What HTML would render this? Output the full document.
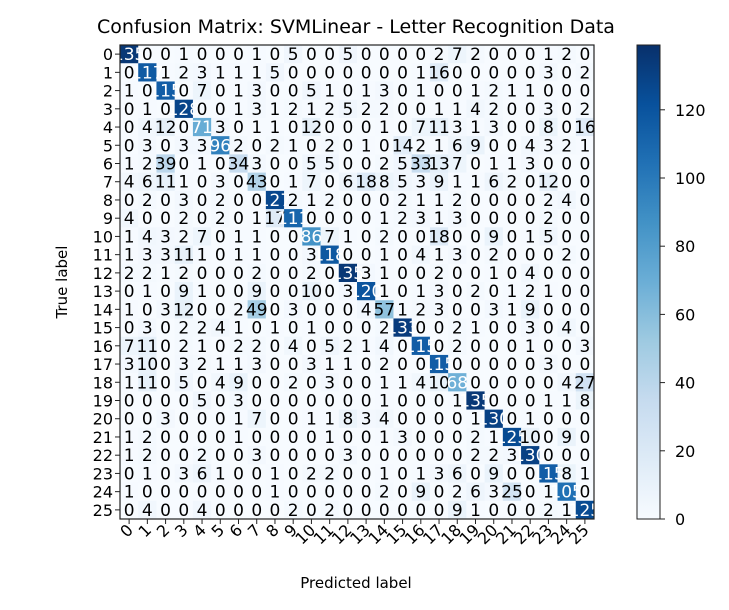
<!DOCTYPE html>
<html><head><meta charset="utf-8"><style>
body{margin:0;background:#fff;}
svg{display:block;font-family:"DejaVu Sans","Liberation Sans",sans-serif;}
</style></head><body>
<svg id="chart" width="729" height="610" viewBox="0 0 729 610" xmlns="http://www.w3.org/2000/svg">
<text x="356" y="33" font-size="19" text-anchor="middle">Confusion Matrix: SVMLinear - Letter Recognition Data</text>
<g id="cells"></g>
<g id="axes"></g>
<text transform="translate(67,282) rotate(-90)" font-size="15" text-anchor="middle">True label</text>
<text x="356" y="588" font-size="15" text-anchor="middle">Predicted label</text>
<defs><linearGradient id="blues" x1="0" y1="1" x2="0" y2="0">
<stop offset="0" stop-color="#f7fbff"/><stop offset="0.125" stop-color="#deebf7"/><stop offset="0.25" stop-color="#c6dbef"/><stop offset="0.375" stop-color="#9ecae1"/><stop offset="0.5" stop-color="#6baed6"/><stop offset="0.625" stop-color="#4292c6"/><stop offset="0.75" stop-color="#2171b5"/><stop offset="0.875" stop-color="#08519c"/><stop offset="1" stop-color="#08306b"/>
</linearGradient></defs>
<rect x="637" y="45" width="23" height="474" fill="url(#blues)" stroke="#222" stroke-width="1"/>
<g id="cbticks"></g>
</svg>
<script>
const labels = ["0","1","2","3","4","5","6","7","8","9","10","11","12","13","14","15","16","17","18","19","20","21","22","23","24","25"];
const colorbarTicks = [0,20,40,60,80,100,120];
const row0 = [135,0,0,1,0,0,0,1,0,5,0,0,5,0,0,0,0,2,7,2,0,0,0,1,2,0];
const row1 = [0,117,1,2,3,1,1,1,5,0,0,0,0,0,0,0,1,16,0,0,0,0,0,3,0,2];
const row2 = [1,0,115,0,7,0,1,3,0,0,5,1,0,1,3,0,1,0,0,1,2,1,1,0,0,0];
const row3 = [0,1,0,128,0,0,1,3,1,2,1,2,5,2,2,0,0,1,1,4,2,0,0,3,0,2];
const row4 = [0,4,12,0,71,3,0,1,1,0,12,0,0,0,1,0,7,11,3,1,3,0,0,8,0,16];
const row5 = [0,3,0,3,3,96,2,0,2,1,0,2,0,1,0,14,2,1,6,9,0,0,4,3,2,1];
const row6 = [1,2,39,0,1,0,34,3,0,0,5,5,0,0,2,5,33,13,7,0,1,1,3,0,0,0];
const row7 = [4,6,11,1,0,3,0,43,0,1,7,0,6,18,8,5,3,9,1,1,6,2,0,12,0,0];
const row8 = [0,2,0,3,0,2,0,0,127,2,1,2,0,0,0,2,1,1,2,0,0,0,0,2,4,0];
const row9 = [4,0,0,2,0,2,0,1,17,111,0,0,0,0,1,2,3,1,3,0,0,0,0,2,0,0];
const row10 = [1,4,3,2,7,0,1,1,0,0,86,7,1,0,2,0,0,18,0,0,9,0,1,5,0,0];
const row11 = [1,3,3,11,1,0,1,1,0,0,3,118,0,0,1,0,4,1,3,0,2,0,0,0,2,0];
const row12 = [2,2,1,2,0,0,0,2,0,0,2,0,135,3,1,0,0,2,0,0,1,0,4,0,0,0];
const row13 = [0,1,0,9,1,0,0,9,0,0,10,0,3,120,1,0,1,3,0,2,0,1,2,1,0,0];
const row14 = [1,0,3,12,0,0,2,49,0,3,0,0,0,4,57,1,2,3,0,0,3,1,9,0,0,0];
const row15 = [0,3,0,2,2,4,1,0,1,0,1,0,0,0,2,133,0,0,2,1,0,0,3,0,4,0];
const row16 = [7,11,0,2,1,0,2,2,0,4,0,5,2,1,4,0,115,0,2,0,0,0,1,0,0,3];
const row17 = [3,10,0,3,2,1,1,3,0,0,3,1,1,0,2,0,0,115,0,0,0,0,0,3,0,0];
const row18 = [1,11,0,5,0,4,9,0,0,2,0,3,0,0,1,1,4,10,68,0,0,0,0,0,4,27];
const row19 = [0,0,0,0,5,0,3,0,0,0,0,0,0,0,1,0,0,0,1,135,0,0,0,1,1,8];
const row20 = [0,0,3,0,0,0,1,7,0,0,1,1,8,3,4,0,0,0,0,1,130,0,1,0,0,0];
const row21 = [1,2,0,0,0,0,1,0,0,0,0,1,0,0,1,3,0,0,0,2,1,125,10,0,9,0];
const row22 = [1,2,0,0,2,0,0,3,0,0,0,0,3,0,0,0,0,0,0,2,2,3,130,0,0,0];
const row23 = [0,1,0,3,6,1,0,0,1,0,2,2,0,0,1,0,1,3,6,0,9,0,0,115,8,1];
const row24 = [1,0,0,0,0,0,0,0,1,0,0,0,0,0,2,0,9,0,2,6,3,25,0,1,105,0];
const row25 = [0,4,0,0,4,0,0,0,0,2,0,2,0,0,0,0,0,0,9,1,0,0,0,2,1,125];
const matrix = [row0,row1,row2,row3,row4,row5,row6,row7,row8,row9,row10,row11,row12,row13,row14,row15,row16,row17,row18,row19,row20,row21,row22,row23,row24,row25];

const NS="http://www.w3.org/2000/svg";
const PX0=120, PY0=45, PW=474, PH=474, VMAX=139;
const n=labels.length, cw=PW/n, ch=PH/n;
const xPos=c=>PX0+c*cw, yPos=r=>PY0+r*ch;
const cbY=v=>519-v/VMAX*474;
const stops=[[247,251,255],[222,235,247],[198,219,239],[158,202,225],[107,174,214],[66,146,198],[33,113,181],[8,81,156],[8,48,107]];
function blues(v){let t=Math.max(0,Math.min(1,v/VMAX))*8;let i=Math.min(7,Math.floor(t)),f=t-i;
const a=stops[i],b=stops[i+1];return `rgb(${a.map((x,k)=>Math.round(x+(b[k]-x)*f)).join(",")})`;}
function mk(tag,attrs,parent){const e=document.createElementNS(NS,tag);for(const k in attrs)e.setAttribute(k,attrs[k]);parent.appendChild(e);return e;}
const cells=document.getElementById('cells'), axes=document.getElementById('axes');
const maxv=Math.max(...matrix.flat());
matrix.forEach((row,r)=>row.forEach((v,c)=>{
  const rc=mk('rect',{x:xPos(c),y:yPos(r),width:cw+0.3,height:ch+0.3,fill:blues(v)},cells);
  
  
}));
matrix.forEach((row,r)=>row.forEach((v,c)=>{
  const t=mk('text',{x:xPos(c)+cw/2,y:yPos(r)+ch/2+6,'font-size':17,'text-anchor':'middle',fill:v>maxv/2?'#fff':'#000'},cells);
  t.textContent=v;
  
  
}));
const fr=mk('rect',{x:PX0,y:PY0,width:PW,height:PH,fill:'none',stroke:'#222','stroke-width':1.2},axes);


labels.forEach((l,i)=>{
  const cx=xPos(i)+cw/2, cy=yPos(i)+ch/2;
  mk('line',{x1:cx,y1:PY0+PH,x2:cx,y2:PY0+PH+5,stroke:'#222'},axes);
  mk('line',{x1:PX0,y1:cy,x2:PX0-5,y2:cy,stroke:'#222'},axes);
  const xt=mk('text',{'font-size':16,'text-anchor':'end',transform:`translate(${cx+5},${PY0+PH+12}) rotate(-45)`},axes);
  xt.textContent=l;
  
  
  const yt=mk('text',{x:PX0-7,y:cy+6,'font-size':16,'text-anchor':'end'},axes);
  yt.textContent=l;
  
  
});
const cb=document.getElementById('cbticks');
colorbarTicks.forEach(v=>{
  const y=cbY(v);
  mk('line',{x1:660,y1:y,x2:665,y2:y,stroke:'#222'},cb);
  const t=mk('text',{x:675,y:y+6,'font-size':16},cb);
  t.textContent=v;
  
  
});
</script>
</body></html>
